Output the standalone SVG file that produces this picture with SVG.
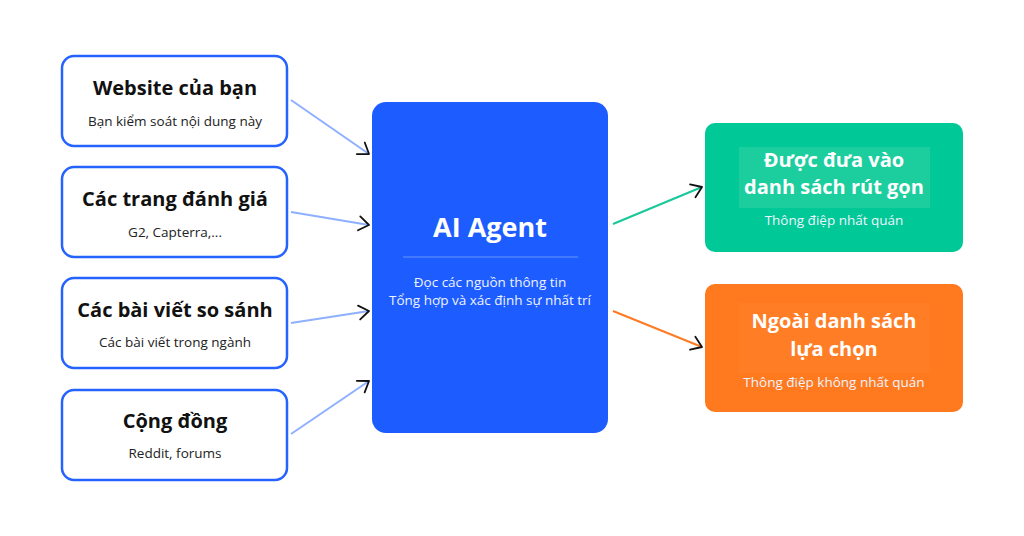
<svg xmlns="http://www.w3.org/2000/svg" width="1024" height="536" viewBox="0 0 1024 536">
<defs>
<marker id="arr" markerUnits="userSpaceOnUse" markerWidth="16" markerHeight="18" viewBox="-13 -9 16 18" refX="0" refY="0" orient="auto">
<path d="M-10,-7 L0,0 L-10,7" fill="none" stroke="#111" stroke-width="1.8" stroke-linecap="round" stroke-linejoin="round"/>
</marker>
</defs>
<style>
.src rect{fill:#fff;stroke:#2563ff;stroke-width:2.5}
.t{font-family:"Open Sans","Noto Sans","DejaVu Sans",sans-serif;text-anchor:middle}
.h{font-size:20px;font-weight:700;fill:#111}
.s{font-size:13.5px;fill:#222}
.w{fill:#fff}
.ws{font-size:13.5px;fill:#eef3ff}
.c{fill:none;stroke-width:2}
</style>
<rect width="1024" height="536" fill="#fff"/>
<g id="connectors">
<line class="c" x1="291" y1="100" x2="369" y2="154" stroke="#8eb0ff" marker-end="url(#arr)"/>
<line class="c" x1="291" y1="212" x2="369" y2="225" stroke="#8eb0ff" marker-end="url(#arr)"/>
<line class="c" x1="291" y1="323" x2="369" y2="311" stroke="#8eb0ff" marker-end="url(#arr)"/>
<line class="c" x1="291" y1="434" x2="369" y2="381" stroke="#8eb0ff" marker-end="url(#arr)"/>
<line class="c" x1="613" y1="224" x2="702" y2="187" stroke="#18c79a" marker-end="url(#arr)"/>
<line class="c" x1="613" y1="311" x2="702" y2="347" stroke="#ff7a22" marker-end="url(#arr)"/>
</g>
<g id="website" class="src">
<rect x="62" y="56" width="225" height="90" rx="12"/>
<text class="t h" x="175" y="95">Website của bạn</text>
<text class="t s" x="175" y="126">Bạn kiểm soát nội dung này</text>
</g>
<g id="review" class="src">
<rect x="62" y="167" width="225" height="90" rx="12"/>
<text class="t h" x="175" y="206">Các trang đánh giá</text>
<text class="t s" x="175" y="237">G2, Capterra,...</text>
</g>
<g id="compare" class="src">
<rect x="62" y="278" width="225" height="90" rx="12"/>
<text class="t h" x="175" y="317">Các bài viết so sánh</text>
<text class="t s" x="175" y="347">Các bài viết trong ngành</text>
</g>
<g id="community" class="src">
<rect x="62" y="390" width="225" height="90" rx="12"/>
<text class="t h" x="175" y="428">Cộng đồng</text>
<text class="t s" x="175" y="458">Reddit, forums</text>
</g>
<g id="agent">
<rect x="372" y="102" width="236" height="331" rx="14" fill="#1d5cff"/>
<text class="t w" x="490" y="237" font-size="27" font-weight="700">AI Agent</text>
<line x1="403" y1="257" x2="578" y2="257" stroke="#6b95ff" stroke-width="1"/>
<text class="t ws" x="490" y="287">Đọc các nguồn thông tin</text>
<text class="t ws" x="490" y="305">Tổng hợp và xác định sự nhất trí</text>
</g>
<g id="shortlist">
<rect x="705" y="123" width="258" height="129" rx="10" fill="#00c896"/>
<rect x="739" y="147" width="191" height="61" fill="#1ccd9e"/>
<text class="t w" x="834" y="167" font-size="20" font-weight="700">Được đưa vào</text>
<text class="t w" x="834" y="194" font-size="20" font-weight="700">danh sách rút gọn</text>
<text class="t ws" x="834" y="225">Thông điệp nhất quán</text>
</g>
<g id="excluded">
<rect x="705" y="284" width="258" height="128" rx="10" fill="#ff7a1e"/>
<rect x="739" y="303" width="191" height="70" fill="#ff7d24"/>
<text class="t w" x="834" y="328" font-size="20" font-weight="700">Ngoài danh sách</text>
<text class="t w" x="834" y="356" font-size="20" font-weight="700">lựa chọn</text>
<text class="t ws" x="834" y="387">Thông điệp không nhất quán</text>
</g>
</svg>
